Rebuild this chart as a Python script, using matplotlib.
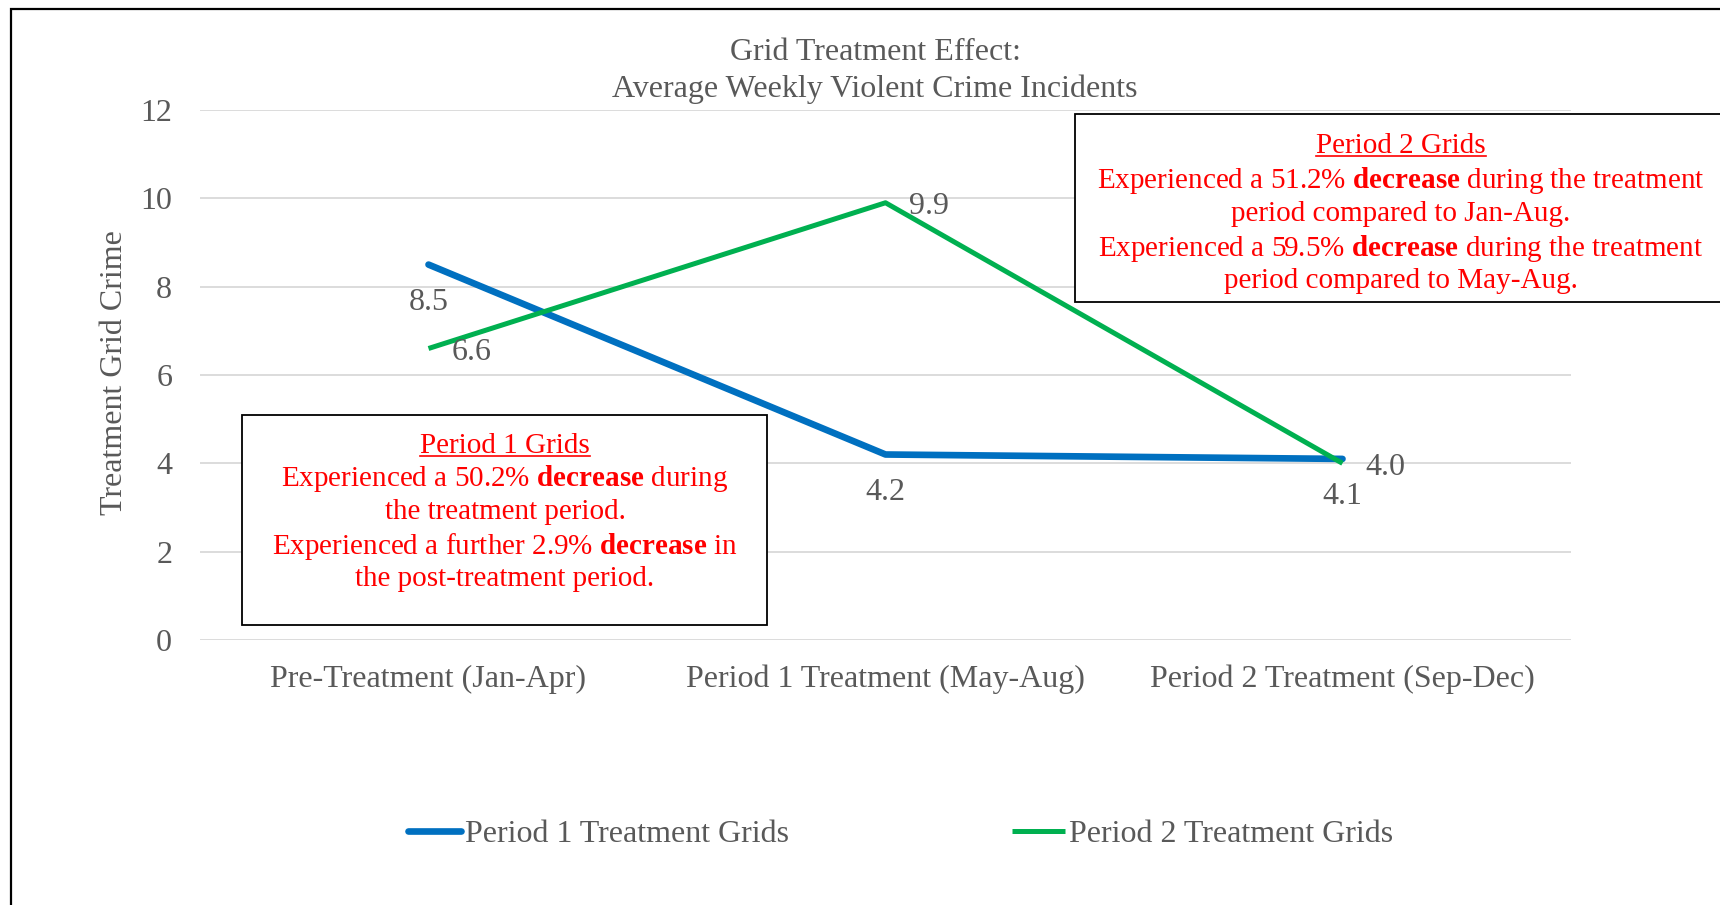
import matplotlib
matplotlib.use("Agg")
import matplotlib.pyplot as plt
from matplotlib.patches import Rectangle
from matplotlib.lines import Line2D

categories = ["Pre-Treatment (Jan-Apr)", "Period 1 Treatment (May-Aug)", "Period 2 Treatment (Sep-Dec)"]
period1 = [8.5, 4.2, 4.1]
period2 = [6.6, 9.9, 4.0]
p1_labels = ["8.5", "4.2", "4.1"]
p2_labels = ["6.6", "9.9", "4.0"]
yticks = [0, 2, 4, 6, 8, 10, 12]

plt.rcParams['font.family'] = ['Liberation Serif', 'DejaVu Serif']
plt.rcParams['mathtext.fontset'] = 'custom'
plt.rcParams['mathtext.rm'] = 'Liberation Serif'
plt.rcParams['mathtext.it'] = 'Liberation Serif:italic'
plt.rcParams['mathtext.bf'] = 'Liberation Serif:bold'

W, H = 1720, 905
FS = 23      # gray chart text
FSR = 21     # red annotation text
GRAY = '#595959'
BLUE = '#0070C0'
GREEN = '#00B050'
RED = '#FF0000'

fig = plt.figure(figsize=(W / 100, H / 100), dpi=100)

def fx(px):
    return px / W

def fy(py):
    return 1 - py / H

ax = fig.add_axes([fx(200), fy(640), fx(1571) - fx(200), fy(110) - fy(640)])
x = list(range(len(categories)))
l1, = ax.plot(x, period1, color=BLUE, lw=4.8, solid_capstyle='round', label="Period 1 Treatment Grids", zorder=3)
l2, = ax.plot(x, period2, color=GREEN, lw=3.6, solid_capstyle='butt', label="Period 2 Treatment Grids", zorder=4)

ax.set_xlim(-0.5, 2.5)
ax.set_ylim(0, 12)
ax.set_yticks(yticks)
ax.set_xticks(x)
ax.set_xticklabels(categories)
ax.tick_params(axis='both', length=0, labelsize=FS, labelcolor=GRAY)
ax.tick_params(axis='x', pad=18)
ax.tick_params(axis='y', pad=20)
ax.grid(axis='y', color='#D9D9D9', lw=1.3)
ax.set_axisbelow(True)
for s in ax.spines.values():
    s.set_visible(False)

for xi, v, t in zip(x, period1, p1_labels):
    ax.annotate(t, (xi, v), xytext=(0, -27), textcoords='offset points',
                ha='center', va='center', fontsize=FS, color=GRAY, zorder=5)
for xi, v, t in zip(x, period2, p2_labels):
    ax.annotate(t, (xi, v), xytext=(31, -3), textcoords='offset points',
                ha='center', va='center', fontsize=FS, color=GRAY, zorder=5)

fig.text(fx(115), fy(373), "Treatment Grid Crime", rotation=90, ha='center', va='center',
         fontsize=FS, color=GRAY)

fig.text(fx(875), fy(52), "Grid Treatment Effect:", ha='center', va='center', fontsize=FS, color=GRAY)
fig.text(fx(875), fy(89), "Average Weekly Violent Crime Incidents", ha='center', va='center', fontsize=FS, color=GRAY)

leg = fig.legend(handles=[l1, l2], loc='center left', bbox_to_anchor=(fx(408), fy(834)), ncol=2,
                 frameon=False, fontsize=FS, handlelength=1.65, handletextpad=0.12,
                 columnspacing=7.0, labelcolor=GRAY, borderpad=0, borderaxespad=0)

# outer border
fig.add_artist(Rectangle((fx(11), -0.05), 2, fy(9) + 0.05, transform=fig.transFigure,
                         fill=False, edgecolor='black', lw=1.6))

# annotation boxes
fig.add_artist(Rectangle((fx(242), fy(625)), fx(767) - fx(242), fy(415) - fy(625),
                         transform=fig.transFigure, facecolor='white', edgecolor='black', lw=1.3, zorder=6))
fig.add_artist(Rectangle((fx(1075), fy(302)), fx(1740) - fx(1075), fy(114) - fy(302),
                         transform=fig.transFigure, facecolor='white', edgecolor='black', lw=1.3, zorder=6))

box1_lines = ["Period 1 Grids",
              r"Experienced a 50.2% $\mathbf{decrease}$ during",
              "the treatment period.",
              r"Experienced a further 2.9% $\mathbf{decrease}$ in",
              "the post-treatment period."]
box1_y = [446, 479, 512, 546, 579]
box2_lines = ["Period 2 Grids",
              r"Experienced a 51.2% $\mathbf{decrease}$ during the treatment",
              "period compared to Jan-Aug.",
              r"Experienced a 59.5% $\mathbf{decrease}$ during the treatment",
              "period compared to May-Aug."]
box2_y = [146, 180, 214, 248, 281]

heads = []
for lines, ys, cx in [(box1_lines, box1_y, 505), (box2_lines, box2_y, 1401)]:
    for i, (t, yy) in enumerate(zip(lines, ys)):
        tx = fig.text(fx(cx), fy(yy), t, ha='center', va='center', fontsize=FSR, color=RED, zorder=7)
        if i == 0:
            heads.append(tx)

fig.canvas.draw()
r = fig.canvas.get_renderer()
for tx in heads:
    bb = tx.get_window_extent(r)
    yline = bb.y0 + 3
    fig.add_artist(Line2D([bb.x0 / W, bb.x1 / W], [yline / H, yline / H], transform=fig.transFigure,
                          color=RED, lw=1.2, zorder=7))

fig.savefig("out.png", dpi=100, facecolor='white')
